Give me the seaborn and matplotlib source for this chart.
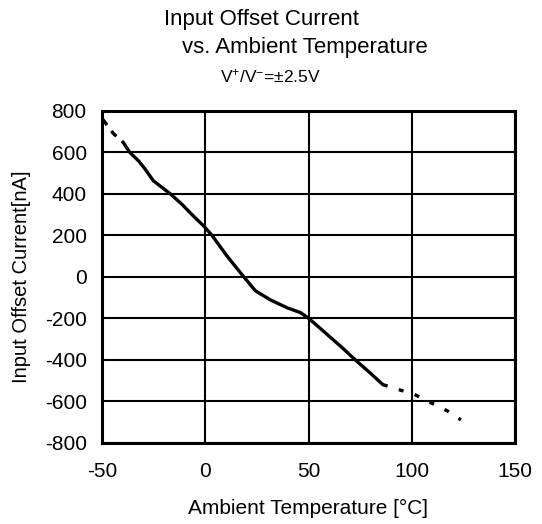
import matplotlib
matplotlib.use("Agg")
import matplotlib.pyplot as plt
import seaborn as sns
import pandas as pd

# Data
temp_solid = [-39.7, -36.6, -32, -29.1, -25.1, -17.0, -11.3, -5.7, -0.8, 3.2, 10.5, 18.6, 24.3, 31.6, 39.7, 46.1, 50.0, 55, 60.7, 66, 73.1, 80, 86.0]
ioff_solid = [647, 600, 555, 518, 462, 400, 349, 292, 245, 200, 100, 0, -68, -112, -150, -173, -200, -243, -293, -339, -405, -465, -520]
temp_dash_low = [-49.7, -44.5, -39.7]
ioff_dash_low = [759, 690, 647]
temp_dash_high = [86.0, 93.0, 101, 109, 117.3, 123.8]
ioff_dash_high = [-520, -542, -566, -606, -647, -690]

xticks = [-50, 0, 50, 100, 150]
yticks = [-800, -600, -400, -200, 0, 200, 400, 600, 800]

sns.set_theme(style="white")
plt.rcParams['font.family'] = ['Liberation Sans', 'DejaVu Sans']
plt.rcParams['mathtext.fontset'] = 'custom'
plt.rcParams['mathtext.rm'] = 'Liberation Sans'
plt.rcParams['mathtext.it'] = 'Liberation Sans'

fig = plt.figure(figsize=(5.42, 5.24), dpi=100)
ax = fig.add_axes([102/542, 1-442.7/524, (515-102)/542, (442.7-110.7)/524])

df_s = pd.DataFrame({"T": temp_solid, "I": ioff_solid})
df_l = pd.DataFrame({"T": temp_dash_low, "I": ioff_dash_low})
df_h = pd.DataFrame({"T": temp_dash_high, "I": ioff_dash_high})

sns.lineplot(data=df_s, x="T", y="I", ax=ax, color="black", lw=2.4, sort=False, zorder=3)
sns.lineplot(data=df_l, x="T", y="I", ax=ax, color="black", lw=2.4, sort=False, zorder=3, linestyle=(0, (2.2, 2.2)))
sns.lineplot(data=df_h, x="T", y="I", ax=ax, color="black", lw=2.4, sort=False, zorder=3, linestyle=(0, (1.5, 3.5)))

ax.set_xlim(-50, 150)
ax.set_ylim(-800, 800)
ax.set_xticks(xticks)
ax.set_yticks(yticks)
ax.set_xticklabels([str(t) for t in xticks])
ax.set_yticklabels([str(t) for t in yticks])
ax.grid(True, color="black", lw=1.5)
for s in ax.spines.values():
    s.set_color("black")
    s.set_linewidth(2.2)
ax.tick_params(axis="y", length=0, labelsize=15, colors="black", pad=11)
ax.tick_params(axis="x", length=0, labelsize=15, colors="black", pad=14)
ax.set_xlabel("Ambient Temperature [°C]", fontsize=15, color="black", labelpad=13)
ax.set_ylabel("Input Offset Current[nA]", fontsize=14.5, color="black", labelpad=10)

fig.text(261/542, 1-20/524, "Input Offset Current", ha="center", va="center", fontsize=16, color="black")
fig.text(305/542, 1-48/524, "vs. Ambient Temperature", ha="center", va="center", fontsize=16, color="black")
fig.text(270/542, 1-76/524, r"V$^{+}$/V$^{-}$=±2.5V", ha="center", va="center", fontsize=12.5, color="black")

fig.savefig("out.png", dpi=100)
